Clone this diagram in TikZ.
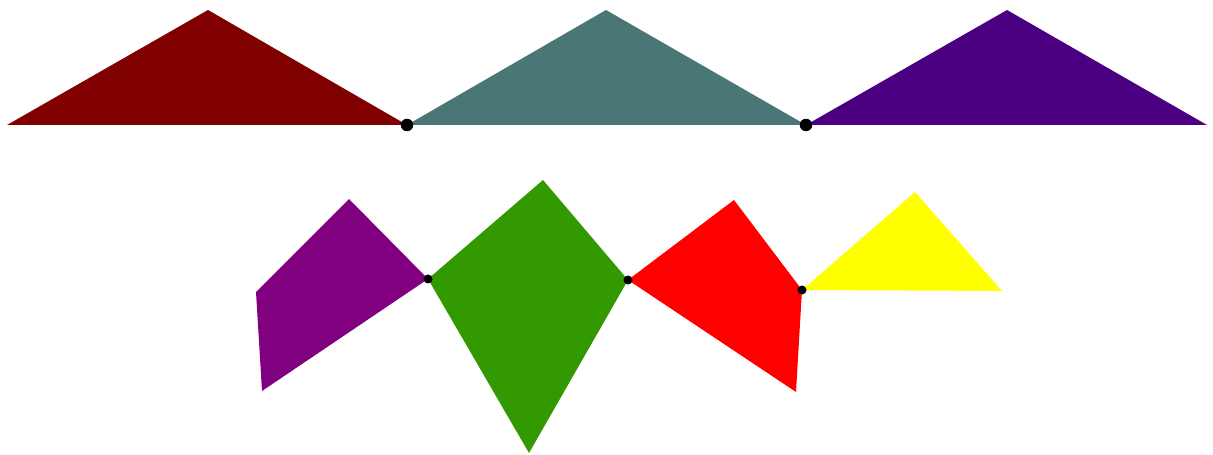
\documentclass[tikz,border=0pt]{standalone}
\usepackage{tikz}
\definecolor{maroonfill}{HTML}{800000}
\definecolor{tealfill}{HTML}{4A7675}
\definecolor{indigofill}{HTML}{4B0082}
\definecolor{purplefill}{HTML}{800080}
\definecolor{greenfill}{HTML}{339900}
\definecolor{redfill}{HTML}{FF0000}
\definecolor{yellowfill}{HTML}{FFFF00}
\tikzset{
  piecefig/.style={x=0.02cm,y=-0.02cm},
  piece/.style={line join=miter},
  joint/.style={circle,fill=black,inner sep=0pt,minimum size=0.25cm},
}

\begin{document}
\begin{tikzpicture}[piecefig]
    \useasboundingbox (0,0) rectangle (1213,455);

    % top row
    \coordinate (tl) at (7,125);
    \coordinate (ja) at (407,125);
    \coordinate (jb) at (806,125);
    \coordinate (tr) at (1207,125);
    \fill[piece,maroonfill] (tl) -- (208,10) -- (ja) -- cycle;
    \fill[piece,tealfill] (ja) -- (606,10) -- (jb) -- cycle;
    \fill[piece,indigofill] (jb) -- (1007,10) -- (tr) -- cycle;
    \node[joint] (dota) at (ja) {};
    \node[joint] (dotb) at (jb) {};

    % bottom row
    \coordinate (jc) at (428,279);
    \coordinate (jd) at (628,280);
    \coordinate (je) at (802,290);
    \fill[piece,purplefill] (256,292) -- (349,199) -- (jc) -- (262,391) -- cycle;
    \fill[piece,greenfill] (jc) -- (543,180) -- (jd) -- (529,453) -- cycle;
    \fill[piece,redfill] (jd) -- (734,200) -- (je) -- (796,392) -- cycle;
    \fill[piece,yellowfill] (je) -- (915,192) -- (1002,291) -- cycle;
    \node[joint,minimum size=0.18cm] (dotc) at (jc) {};
    \node[joint,minimum size=0.18cm] (dotd) at (jd) {};
    \node[joint,minimum size=0.18cm] (dote) at (je) {};
\end{tikzpicture}
\end{document}
